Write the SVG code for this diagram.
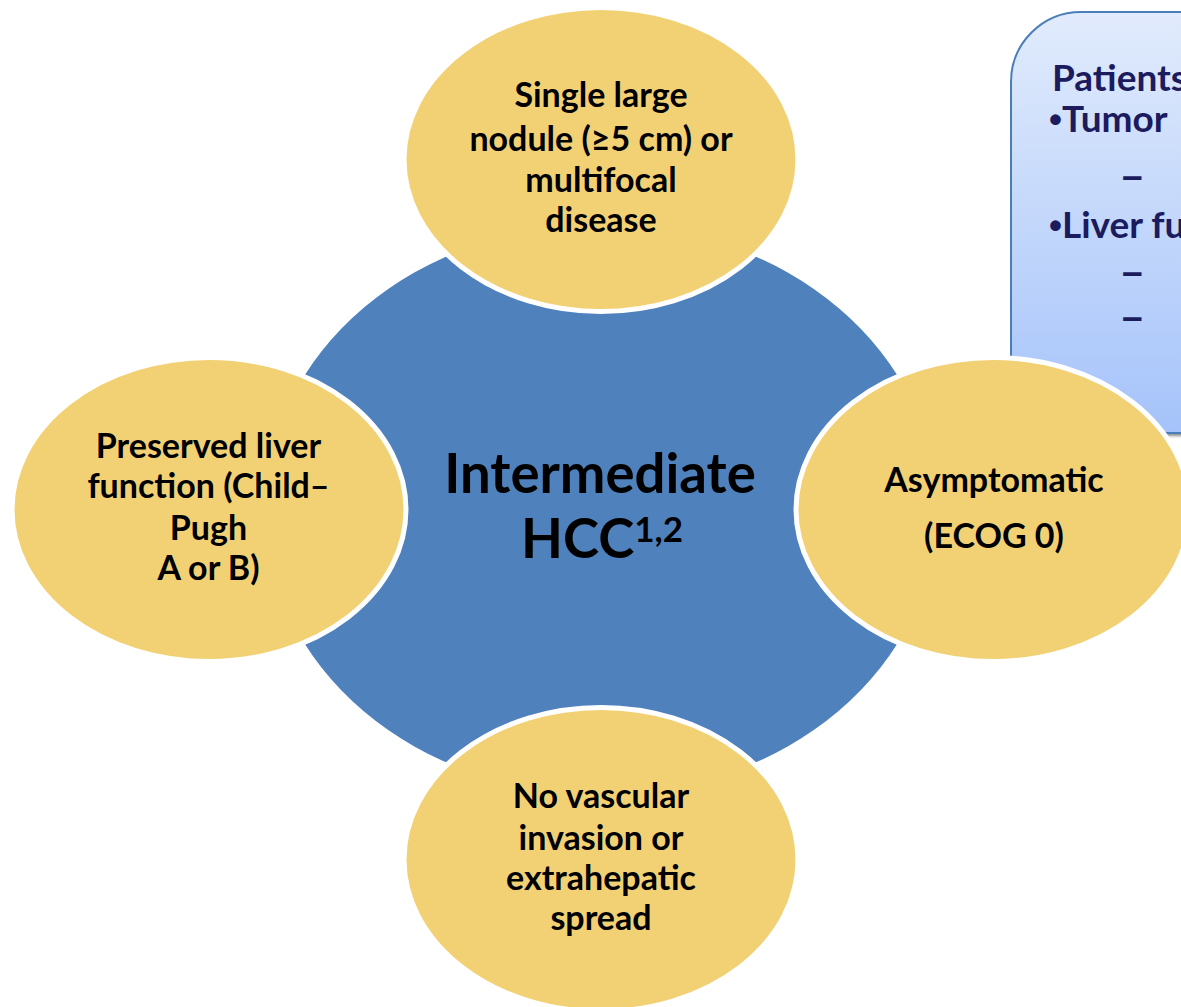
<svg xmlns="http://www.w3.org/2000/svg" width="1181" height="1007" viewBox="0 0 1181 1007">
  <defs>
    <linearGradient id="calloutFill" x1="0" y1="0" x2="0" y2="1">
      <stop offset="0" stop-color="#e1ebfc"/>
      <stop offset="1" stop-color="#a5c3fa"/>
    </linearGradient>
    <filter id="softShadow" x="-10%" y="-10%" width="130%" height="130%">
      <feGaussianBlur stdDeviation="1.5"/>
    </filter>
  </defs>
  <style>
    .hub { fill: #4f81bd; }
    .petal { fill: #f2d175; stroke: #ffffff; stroke-width: 5; }
    .lbl { font-family: Lato, "Liberation Sans", sans-serif; font-weight: 700; font-size: 34px; fill: #000000; text-anchor: middle; }
    .hubtxt { font-family: Lato, "Liberation Sans", sans-serif; font-weight: 700; font-size: 54.5px; fill: #000000; text-anchor: middle; }
    .note { font-family: Lato, "Liberation Sans", sans-serif; font-weight: 700; font-size: 37px; fill: #1b1b5e; }
    .mark { font-family: "Liberation Sans", Arial, sans-serif; font-weight: 700; }
  </style>

  <rect width="1181" height="1007" fill="#ffffff"/>

  <!-- callout panel, partly off the right edge -->
  <g id="callout">
    <rect x="1013" y="15" width="260" height="421" rx="70" ry="70" fill="#8c8c8c" filter="url(#softShadow)"/>
    <rect x="1011" y="12" width="260" height="421" rx="70" ry="70" fill="url(#calloutFill)" stroke="#4a7ebb" stroke-width="2"/>
    <text class="note" x="1052" y="91">Patients</text>
    <text class="note" x="1049" y="132"><tspan class="mark">•</tspan>Tumor</text>
    <text class="note mark" x="1122" y="188">–</text>
    <text class="note" x="1049" y="238"><tspan class="mark">•</tspan>Liver fu</text>
    <text class="note mark" x="1122" y="284">–</text>
    <text class="note mark" x="1122" y="329">–</text>
  </g>

  <!-- central hub -->
  <g id="hub">
    <ellipse class="hub" cx="601" cy="509.5" rx="336" ry="285"/>
    <text class="hubtxt" x="600" y="493">Intermediate</text>
    <text class="hubtxt" x="602" y="558">HCC<tspan font-size="35px" dy="-16">1,2</tspan></text>
  </g>

  <!-- surrounding criteria -->
  <g id="node-top">
    <ellipse class="petal" cx="601" cy="159.5" rx="197" ry="152"/>
    <text class="lbl" x="601" y="107">Single large</text>
    <text class="lbl" x="601" y="151">nodule (≥5 cm) or</text>
    <text class="lbl" x="601" y="192">multifocal</text>
    <text class="lbl" x="601" y="232">disease</text>
  </g>

  <g id="node-left">
    <ellipse class="petal" cx="209" cy="509.5" rx="197" ry="152"/>
    <text class="lbl" x="208.5" y="458">Preserved liver</text>
    <text class="lbl" x="208.5" y="498">function (Child–</text>
    <text class="lbl" x="208.5" y="540">Pugh</text>
    <text class="lbl" x="208.5" y="580">A or B)</text>
  </g>

  <g id="node-right">
    <ellipse class="petal" cx="993" cy="509.5" rx="197" ry="152"/>
    <text class="lbl" x="994" y="492">Asymptomatic</text>
    <text class="lbl" x="994" y="548">(ECOG 0)</text>
  </g>

  <g id="node-bottom">
    <ellipse class="petal" cx="601" cy="859.5" rx="197" ry="152"/>
    <text class="lbl" x="601" y="808">No vascular</text>
    <text class="lbl" x="601" y="850">invasion or</text>
    <text class="lbl" x="601" y="890">extrahepatic</text>
    <text class="lbl" x="601" y="930">spread</text>
  </g>

  <g id="connectors"/>
</svg>
